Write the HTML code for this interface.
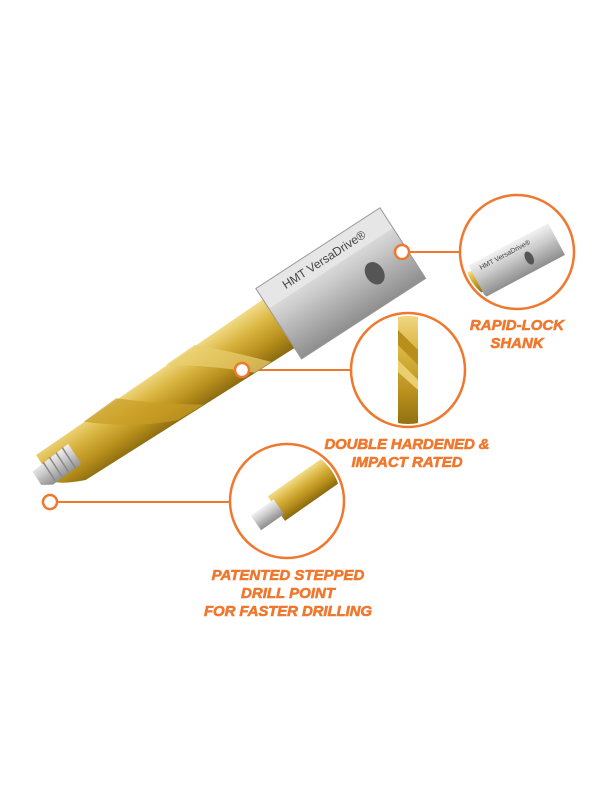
<!DOCTYPE html>
<html><head><meta charset="utf-8"><style>
html,body{margin:0;padding:0;background:#fff;width:600px;height:800px;overflow:hidden}
svg{display:block}
text{font-family:"Liberation Sans",sans-serif;font-weight:bold;font-style:italic;fill:#f0782e;stroke:#f0782e;stroke-width:0.6px;font-size:15px;text-anchor:middle}
</style></head><body>
<svg width="600" height="800" viewBox="0 0 600 800" xmlns="http://www.w3.org/2000/svg">
<defs>
<linearGradient id="gold" x1="0" y1="0" x2="0" y2="1">
<stop offset="0" stop-color="#f3dc8a"/><stop offset="0.35" stop-color="#d9b440"/><stop offset="0.7" stop-color="#b88f1c"/><stop offset="1" stop-color="#8a6a10"/></linearGradient>
<linearGradient id="steel" x1="0" y1="0" x2="0" y2="1">
<stop offset="0" stop-color="#f2f2f2"/><stop offset="0.45" stop-color="#c9c9c9"/><stop offset="0.55" stop-color="#bdbdbd"/><stop offset="1" stop-color="#8e8e8e"/></linearGradient>
<clipPath id="c1"><circle cx="517" cy="252" r="54"/></clipPath>
<clipPath id="c2"><circle cx="408" cy="370" r="54"/></clipPath>
<clipPath id="c3"><circle cx="287" cy="501" r="54"/></clipPath>
</defs>

<g stroke="#f0782e" stroke-width="2" fill="none">
<line x1="408" y1="252" x2="460" y2="252"/>
<line x1="248" y1="370" x2="351" y2="370"/>
<line x1="56" y1="502" x2="230" y2="502"/>
</g>

<g transform="translate(38,480) rotate(-33)">
<path d="M12,-22 L290,-29 L290,29 L40,26 Q20,18 12,10 Z" fill="url(#gold)"/>
<path d="M70,-24 Q110,10 150,26 L180,27 Q140,0 110,-26 Z" fill="#c99d25" opacity="0.7"/>
<path d="M170,-27 Q210,0 240,28 L260,28 Q230,-5 205,-28 Z" fill="#e9cf70" opacity="0.7"/>
<path d="M0,-10 L45,-14 L45,10 L10,12 L0,6 Z" fill="url(#steel)"/>
<g stroke="#888" stroke-width="1.5"><line x1="14" y1="-12" x2="14" y2="10"/><line x1="22" y1="-13" x2="22" y2="11"/><line x1="30" y1="-13" x2="30" y2="11"/><line x1="38" y1="-14" x2="38" y2="11"/></g>
<rect x="287" y="-42" width="148" height="84" fill="url(#steel)"/>
<rect x="287" y="-42" width="148" height="24" fill="#e6e6e6"/>
<rect x="287" y="-42" width="148" height="84" fill="none" stroke="#999" stroke-width="1"/>
<ellipse cx="395" cy="10" rx="9" ry="12" fill="#555"/>
<text x="360" y="-25" style="font-style:normal;font-weight:normal;fill:#444;stroke:none;font-size:12px">HMT VersaDrive®</text>
</g>

<g clip-path="url(#c1)">
<g transform="translate(470,285) rotate(-28)"><rect x="-20" y="-12" width="30" height="24" fill="url(#gold)"/><rect x="8" y="-18" width="90" height="36" fill="url(#steel)"/><ellipse cx="65" cy="4" rx="4" ry="7" fill="#555"/><text x="45" y="-8" style="font-style:normal;font-weight:normal;fill:#444;stroke:none;font-size:7px">HMT VersaDrive®</text></g>
</g>
<g clip-path="url(#c2)">
<rect x="398" y="310" width="20" height="120" fill="url(#gold)"/>
<path d="M398,330 L418,350 L418,365 L398,345 Z" fill="#b88f1c"/>
<path d="M398,360 L418,380 L418,390 L398,372 Z" fill="#e9cf70"/>
</g>
<g clip-path="url(#c3)">
<g transform="translate(260,520) rotate(-35)"><rect x="20" y="-15" width="70" height="30" fill="url(#gold)"/><rect x="-5" y="-9" width="28" height="18" fill="url(#steel)"/></g>
</g>
<g fill="none" stroke="#f0782e" stroke-width="2.5">
<circle cx="517" cy="252" r="57"/><circle cx="408" cy="370" r="57"/><circle cx="287" cy="501" r="57"/>
</g>
<g fill="#fff" stroke="#f0782e" stroke-width="2.5">
<circle cx="402" cy="252" r="7"/><circle cx="242" cy="370" r="7"/><circle cx="50" cy="502" r="7"/>
</g>

<text x="517" y="330">RAPID-LOCK</text>
<text x="517" y="348">SHANK</text>
<text x="407" y="449" textLength="165">DOUBLE HARDENED &amp;</text>
<text x="407" y="467">IMPACT RATED</text>
<text x="288" y="580">PATENTED STEPPED</text>
<text x="288" y="598">DRILL POINT</text>
<text x="288" y="616" textLength="168">FOR FASTER DRILLING</text>
</svg>
</body></html>
